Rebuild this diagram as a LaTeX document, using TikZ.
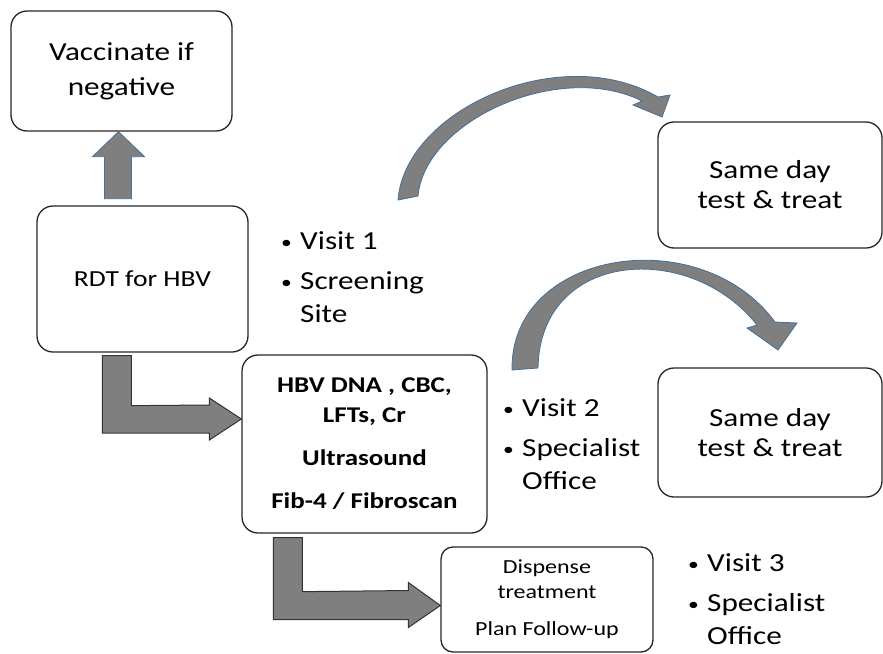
\documentclass[tikz,border=0pt]{standalone}
\usepackage{fontspec}
\setmainfont{Carlito}[FakeStretch=1.2]
\usetikzlibrary{calc}

\definecolor{arrowgray}{RGB}{127,127,127}
\definecolor{edgeblue}{RGB}{65,113,156}
\newcommand{\visitdot}{\makebox[19pt][l]{\raisebox{1pt}{\fontsize{18}{18}\selectfont\textbullet}}}
\newcommand{\visitgap}{\hspace*{19pt}}

\begin{document}
\begin{tikzpicture}[x=1pt,y=-1pt,
  box/.style={draw=black!85,line width=1.3pt,rounded corners=16pt,align=center,inner sep=0pt},
  visit/.style={anchor=north west,align=left,inner sep=0pt,font=\fontsize{26}{33}\selectfont},
  bluearrow/.style={fill=arrowgray,draw=edgeblue,line width=0.8pt},
  blackarrow/.style={fill=arrowgray,draw=black!80,line width=1pt}]
\useasboundingbox (0,0) rectangle (883,653);

% boxes
\node[box,minimum width=221pt,minimum height=120pt,font=\fontsize{26}{35}\selectfont] (vacc) at (121.5,71) {Vaccinate if\\negative};
\node[box,minimum width=211pt,minimum height=146pt,font=\fontsize{23}{30}\selectfont] (rdt) at (142.5,279) {RDT for HBV};
\node[box,minimum width=245pt,minimum height=178pt,font=\fontsize{22.5}{30}\selectfont\bfseries] (hbv) at (364.5,444)
  {HBV DNA , CBC,\\LFTs, Cr\\[13pt]Ultrasound\\[13pt]Fib-4 / Fibroscan};
\node[box,minimum width=224pt,minimum height=126pt,font=\fontsize{26}{30}\selectfont] (same1) at (770,185) {Same day\\test \& treat};
\node[box,minimum width=224pt,minimum height=129pt,font=\fontsize{26}{30}\selectfont] (same2) at (770,432.5) {Same day\\test \& treat};
\node[box,rounded corners=12pt,minimum width=212pt,minimum height=105pt,font=\fontsize{20}{25}\selectfont] (disp) at (547,599.5)
  {Dispense\\treatment\\[12pt]Plan Follow-up};

% visits
\node[visit] (v1) at (281,231) {\visitdot Visit 1\\[7pt]\visitdot Screening\\\visitgap Site};
\node[visit] (v2) at (503,398) {\visitdot Visit 2\\[7pt]\visitdot Specialist\\\visitgap Office};
\node[visit] (v3) at (688,553) {\visitdot Visit 3\\[7pt]\visitdot Specialist\\\visitgap Office};

% block arrows
\coordinate (tip0) at ([xshift=-3pt]vacc.south);
\coordinate (tip1) at ([yshift=25pt]hbv.west);
\coordinate (tip2) at ([yshift=-6pt]disp.west);
\draw[bluearrow] (tip0) -- ++(26,25) -- ++(-13,0) -- ++(0,42) -- ++(-27,0) -- ++(0,-42) -- ++(-12,0) -- cycle;
\draw[blackarrow] ([xshift=66pt,yshift=-3pt]rdt.south west) coordinate (s1) -- ++(29,0) -- ++(0,50)
  -- ($(tip1)+(-32,-14)$) -- ++(0,-7) -- (tip1) -- ++(-32,21) -- ++(0,-7) -| (s1) -- cycle;
\draw[blackarrow] ([xshift=32pt,yshift=-4pt]hbv.south west) coordinate (s2) -- ++(29,0) -- ++(0,54)
  -- ($(tip2)+(-32,-15)$) -- ++(0,-8) -- (tip2) -- ++(-32,22) -- ++(0,-8) -| (s2) -- cycle;

% curved arrows
\draw[bluearrow] (398,200) .. controls (405,110) and (560,40) .. (658,97) -- (670,95) -- (662,117)
  -- (633,105) -- (642,101) .. controls (560,60) and (425,120) .. (418,196) -- cycle;
\draw[bluearrow] (512,370) .. controls (510,250) and (700,220) .. (775,322) -- (797,323) -- (778,350)
  -- (747,328) -- (757,325) .. controls (690,240) and (540,250) .. (538,368) -- cycle;
\end{tikzpicture}
\end{document}
